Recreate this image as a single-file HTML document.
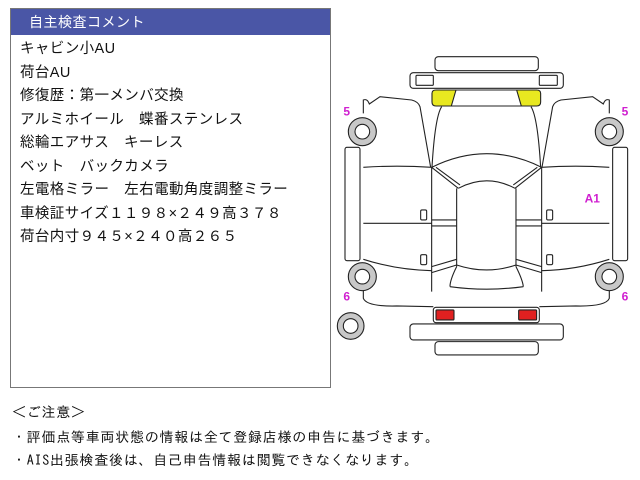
<!DOCTYPE html>
<html><head><meta charset="utf-8"><style>
body{margin:0;width:640px;height:480px;background:#fff;position:relative;overflow:hidden;font-family:"Liberation Sans","Noto Sans CJK JP",sans-serif;}
.box{position:absolute;left:10px;top:8px;width:321px;height:380px;border:1px solid #777;box-sizing:border-box;}
.hd{background:#4a56a6;color:#fff;height:26px;font-size:14px;line-height:26px;padding-left:18px;letter-spacing:0.5px}
.ln{font-size:14.5px;line-height:23.5px;padding-left:9px;color:#111;letter-spacing:0.4px;margin-top:3px}
.note{position:absolute;left:12px;font-size:14px;color:#111;letter-spacing:0.75px;font-family:"IPAGothic","Noto Sans CJK JP",sans-serif}
</style></head><body>
<div class="box"><div class="hd">自主検査コメント</div>
<div class="ln">キャビン小AU<br>荷台AU<br>修復歴：第一メンバ交換<br>アルミホイール　蝶番ステンレス<br>総輪エアサス　キーレス<br>ベット　バックカメラ<br>左電格ミラー　左右電動角度調整ミラー<br>車検証サイズ１１９８×２４９高３７８<br>荷台内寸９４５×２４０高２６５</div></div>
<div class="note" style="top:405px">＜ご注意＞</div>
<div class="note" style="top:430px">・評価点等車両状態の情報は全て登録店様の申告に基づきます。</div>
<div class="note" style="top:453px">・AIS出張検査後は、自己申告情報は閲覧できなくなります。</div>
<svg style="position:absolute;left:0;top:0" width="640" height="480">
<g transform="translate(330,50) scale(0.3333)" fill="none" stroke="#222" stroke-width="3.3">
<rect x="315" y="20" width="310" height="42" rx="10" fill="#fff"/>
<rect x="240" y="68" width="460" height="47" rx="10" fill="#fff"/>
<rect x="258" y="76" width="52" height="30" rx="3"/>
<rect x="628" y="76" width="54" height="30" rx="3"/>
<path d="M318,120 L378,120 L364,168 L318,168 Q306,168 306,156 L306,130 Q306,120 318,120Z" fill="#e8e820"/>
<path d="M560,120 L620,120 Q632,120 632,130 L632,156 Q632,168 620,168 L574,168Z" fill="#e8e820"/>
<path d="M378,120 L560,120 M364,168 L574,168"/>
<path d="M100,190 L100,150 Q112,145 118,162 L150,140 L245,150 Q265,155 270,170 L302,352"/>
<path d="M838,190 L838,150 Q826,145 820,162 L788,140 L693,150 Q673,155 668,170 L636,352"/>
<path d="M335,170 Q315,200 306,352 M603,170 Q623,200 632,352"/>
<path d="M305,352 Q470,270 635,352"/>
<path d="M385,415 Q470,370 555,415"/>
<path d="M305,352 L385,415 M318,352 L390,405 M635,352 L555,415 M622,352 L550,405"/>
<path d="M100,352 Q200,345 305,352 M838,352 Q738,345 635,352"/>
<path d="M100,520 L305,520 M838,520 L635,520"/>
<path d="M305,510 L380,510 M305,528 L380,528 M635,510 L558,510 M635,528 L558,528"/>
<path d="M305,352 L305,725 M380,415 L380,650 M635,352 L635,725 M558,415 L558,650"/>
<path d="M380,645 Q470,675 558,645"/>
<path d="M305,650 L380,628 M305,668 L380,645 M635,650 L558,628 M635,668 L558,645"/>
<path d="M100,628 Q200,660 305,662 M838,628 Q738,660 635,662"/>
<path d="M360,710 Q470,725 580,710 M380,650 Q360,690 360,710 M558,650 Q578,690 580,710"/>
<path d="M100,720 L100,745 Q110,770 200,768 L310,770 M838,720 L838,745 Q828,770 738,768 L628,770"/>
<rect x="272" y="480" width="18" height="30" rx="4"/><rect x="272" y="614" width="18" height="30" rx="4"/>
<rect x="650" y="480" width="18" height="30" rx="4"/><rect x="650" y="614" width="18" height="30" rx="4"/>
<rect x="45" y="292" width="45" height="340" rx="6" fill="#fff"/>
<rect x="848" y="292" width="45" height="340" rx="6" fill="#fff"/>
<g fill="#c8c8c8"><circle cx="97" cy="245" r="42"/><circle cx="838" cy="245" r="42"/><circle cx="97" cy="680" r="42"/><circle cx="838" cy="680" r="42"/><circle cx="62" cy="828" r="40"/></g>
<g fill="#fff"><circle cx="97" cy="245" r="22"/><circle cx="838" cy="245" r="22"/><circle cx="97" cy="680" r="22"/><circle cx="838" cy="680" r="22"/><circle cx="62" cy="828" r="22"/></g>
<rect x="310" y="772" width="318" height="46" rx="8" fill="#fff"/>
<rect x="318" y="780" width="54" height="30" rx="3" fill="#e02020"/>
<rect x="566" y="780" width="54" height="30" rx="3" fill="#e02020"/>
<rect x="240" y="822" width="460" height="48" rx="10" fill="#fff"/>
<rect x="315" y="875" width="310" height="40" rx="10" fill="#fff"/>
<g fill="#d020d0" stroke="none" font-family="Liberation Sans,sans-serif" font-weight="bold" font-size="36">
<text x="40" y="197">5</text><text x="875" y="197">5</text><text x="40" y="752">6</text><text x="875" y="752">6</text><text x="764" y="457">A1</text></g>
</g></svg>
</body></html>
